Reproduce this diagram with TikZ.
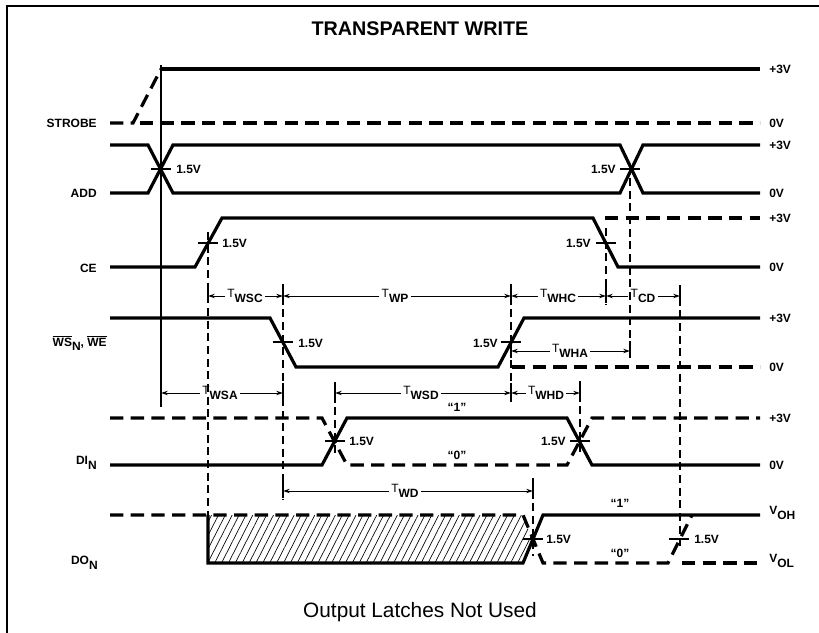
\documentclass[tikz,border=0pt]{standalone}
\usepackage{fontspec}
\setmainfont{Liberation Sans}
\usetikzlibrary{arrows.meta,patterns.meta}
\newcommand\tmsub[1]{T\raisebox{-3.6pt}{\bfseries #1}}
\begin{document}
\begin{tikzpicture}[x=0.75pt,y=-0.75pt,
  sig/.style={line width=2.4pt},
  sigd/.style={line width=2.4pt,dash pattern=on 10pt off 5.5pt},
  vdash/.style={line width=0.85pt,dash pattern=on 6pt off 3.5pt},
  ticks/.style={line width=0.9pt},
  dim/.style={line width=0.7pt,-{Stealth[length=5pt,width=3.2pt]}},
  lab/.style={font=\bfseries\fontsize{9}{10}\selectfont,inner sep=0pt},
  tlab/.style={font=\fontsize{9}{10}\selectfont,inner sep=1.5pt},
  qlab/.style={font=\bfseries\fontsize{9}{10}\selectfont,inner sep=0pt},
]
\useasboundingbox (0,0) rectangle (819,633);
% frame
\draw[line width=0.8pt] (7,633) -- (7,6) -- (819,6);
% title and footer
\node[font=\bfseries\fontsize{14.8}{16}\selectfont] (title) at (420,29) {TRANSPARENT WRITE};
\node[font=\fontsize{15.6}{17}\selectfont] (foot) at (420,612) {Output Latches Not Used};

% x positions of reference lines
\coordinate (xS) at (161,0);
\coordinate (xA) at (208,0);
\coordinate (xB) at (283,0);
\coordinate (xC) at (335,0);
\coordinate (xD) at (511,0);
\coordinate (xE) at (533,0);
\coordinate (xF) at (580,0);
\coordinate (xG) at (606,0);
\coordinate (xH) at (630,0);
\coordinate (xI) at (680,0);

% ---------------- hatch of DO
\fill[pattern={Lines[angle=63,distance=4.6pt,line width=0.5pt]}]
  (208,515) -- (523,515) -- (533,539) -- (523,563) -- (208,563) -- cycle;

% ---------------- reference lines
\draw[line width=0.85pt] (161,65) -- (161,407);
\draw[vdash] (208,232) -- (208,515);
\draw[vdash] (283,284) -- (283,500);
\draw[vdash] (335,382) -- (335,458);
\draw[vdash] (511,284) -- (511,402);
\draw[vdash] (533,478) -- (533,556);
\draw[vdash] (580,381) -- (580,452);
\draw[vdash] (606,228) -- (606,305);
\draw[vdash] (630,178) -- (630,358);
\draw[vdash] (680,285) -- (680,548);
% solid ticks at arrow ends
\foreach \x/\y in {208/295,283/295,511/295,606/295,680/295,511/350,630/350,
                   283/392,335/392,511/392,580/392,283/490,533/490}
  \draw[ticks] (\x,\y-9) -- (\x,\y+8);

% ---------------- STROBE
\draw[sigd] (110,123) -- (133,123) -- (161,69);
\draw[sigd] (140,123) -- (760,123);
\draw[sig] (161,69) -- (760,69);
% ---------------- ADD
\draw[sig] (110,145) -- (148,145) -- (173,193) -- (620,193) -- (643,145) -- (760,145);
\draw[sig] (110,193) -- (148,193) -- (173,145) -- (620,145) -- (643,193) -- (760,193);
% ---------------- CE
\draw[sig] (110,267) -- (195,267) -- (222,218) -- (593,218) -- (618,267) -- (760,267);
\draw[sigd] (605,218) -- (760,218);
% ---------------- WS / WE
\draw[sig] (110,318) -- (270,318) -- (296,367) -- (498,367) -- (524,318) -- (760,318);
\draw[sigd] (512,367) -- (760,367);
% ---------------- DI
\draw[sig] (110,465) -- (322,465) -- (347,418) -- (567,418) -- (592,465) -- (760,465);
\draw[sigd] (110,418) -- (322,418) -- (347,465) -- (567,465) -- (592,418) -- (760,418);
% ---------------- DO
\draw[sigd] (110,515) -- (523,515) -- (543,563) -- (668,563) -- (692,515);
\draw[sigd] (682,563) -- (760,563);
\draw[sig] (208,515) -- (208,563) -- (523,563) -- (543,515) -- (760,515);

% ---------------- 1.5V crossing ticks
\foreach \x/\y in {161/169,630/169,208/243,606/243,283/342,511/342,335/441,580/441,533/539,679/539}
  \draw[ticks] (\x-10,\y) -- (\x+10,\y);
\node[lab,anchor=west] (vA1) at (176,169) {1.5V};
\node[lab,anchor=east] (vA2) at (616,169) {1.5V};
\node[lab,anchor=west] (vC1) at (222,243) {1.5V};
\node[lab,anchor=east] (vC2) at (591,243) {1.5V};
\node[lab,anchor=west] (vW1) at (298,343) {1.5V};
\node[lab,anchor=east] (vW2) at (498,343) {1.5V};
\node[lab,anchor=west] (vD1) at (349,441) {1.5V};
\node[lab,anchor=east] (vD2) at (566,441) {1.5V};
\node[lab,anchor=west] (vO1) at (546,539) {1.5V};
\node[lab,anchor=west] (vO2) at (694,539) {1.5V};

% ---------------- "1" / "0"
\node[qlab] (d1) at (457,407) {\textquotedblleft1\textquotedblright};
\node[qlab] (d0) at (457,455) {\textquotedblleft0\textquotedblright};
\node[qlab] (o1) at (620,503) {\textquotedblleft1\textquotedblright};
\node[qlab] (o0) at (620,553) {\textquotedblleft0\textquotedblright};

% ---------------- signal names
\node[lab,anchor=east] (nS) at (97,123) {STROBE};
\node[lab,anchor=east] (nA) at (97,193) {ADD};
\node[lab,anchor=east] (nC) at (97,268) {CE};
\node[lab,anchor=east] (nW) at (107,343) {$\overline{\mbox{WS}}$\raisebox{-3pt}{N}, $\overline{\mbox{WE}}$};
\node[lab,anchor=east] (nD) at (97,463) {DI\raisebox{-3.5pt}{N}};
\node[lab,anchor=east] (nO) at (98,563) {DO\raisebox{-3.5pt}{N}};

% ---------------- levels
\foreach \y/\t/\n in {69/+3V/l1,123/0V/l2,145/+3V/l3,193/0V/l4,218/+3V/l5,267/0V/l6,
                      318/+3V/l7,367/0V/l8,418/+3V/l9,465/0V/l10}
  \node[lab,anchor=west] (\n) at (769,\y) {\t};
\node[lab,anchor=west] (l11) at (769,513) {V\raisebox{-3.5pt}{OH}};
\node[lab,anchor=west] (l12) at (769,561) {V\raisebox{-3.5pt}{OL}};

% ---------------- timing arrows
\node[tlab] (twsc) at (245,296) {\tmsub{WSC}};
\draw[dim] (twsc.west) -- (twsc.west -| xA);
\draw[dim] (twsc.east) -- (twsc.east -| xB);
\node[tlab] (twp) at (395,296) {\tmsub{WP}};
\draw[dim] (twp.west) -- (twp.west -| xB);
\draw[dim] (twp.east) -- (twp.east -| xD);
\node[tlab] (twhc) at (558,296) {\tmsub{WHC}};
\draw[dim] (twhc.west) -- (twhc.west -| xD);
\draw[dim] (twhc.east) -- (twhc.east -| xG);
\node[tlab] (tcd) at (643,296) {\tmsub{CD}};
\draw[dim] (tcd.west) -- (tcd.west -| xG);
\draw[dim] (tcd.east) -- (tcd.east -| xI);
\node[tlab] (twha) at (570,351) {\tmsub{WHA}};
\draw[dim] (twha.west) -- (twha.west -| xD);
\draw[dim] (twha.east) -- (twha.east -| xH);
\node[tlab] (twsa) at (220,393) {\tmsub{WSA}};
\draw[dim] (twsa.west) -- (twsa.west -| xS);
\draw[dim] (twsa.east) -- (twsa.east -| xB);
\node[tlab] (twsd) at (421,393) {\tmsub{WSD}};
\draw[dim] (twsd.west) -- (twsd.west -| xC);
\draw[dim] (twsd.east) -- (twsd.east -| xD);
\node[tlab] (twhd) at (546,393) {\tmsub{WHD}};
\draw[dim] (twhd.west) -- (twhd.west -| xD);
\draw[dim] (twhd.east) -- (twhd.east -| xF);
\node[tlab] (twd) at (405,491) {\tmsub{WD}};
\draw[dim] (twd.west) -- (twd.west -| xB);
\draw[dim] (twd.east) -- (twd.east -| xE);
\end{tikzpicture}
\end{document}
